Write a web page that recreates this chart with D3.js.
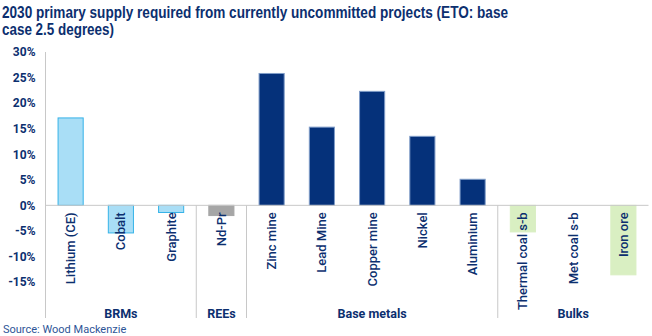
<!DOCTYPE html>
<html>
<head>
<meta charset="utf-8">
<script src="https://cdn.jsdelivr.net/npm/d3@7"></script>
<style>
  body { margin: 0; background: #fff; }
  svg { display: block; }
</style>
</head>
<body>
<div id="chart"></div>
<script>
// data
var categories = ["Lithium (CE)", "Cobalt", "Graphite", "Nd-Pr", "Zinc mine", "Lead Mine",
                  "Copper mine", "Nickel", "Aluminium", "Thermal coal s-b", "Met coal s-b", "Iron ore"];
var groupOf = ["BRMs", "BRMs", "BRMs", "REEs", "Base metals", "Base metals",
               "Base metals", "Base metals", "Base metals", "Bulks", "Bulks", "Bulks"];
var values = [17.1, -5.4, -1.4, -2.0, 25.8, 15.3, 22.3, 13.5, 5.1, -5.2, 0, -13.6];
var groups = ["BRMs", "REEs", "Base metals", "Bulks"];
var yTicks = [-15, -10, -5, 0, 5, 10, 15, 20, 25, 30];

var w = 652, h = 336;
var navy = "#0c2f6f";
var fills = { "BRMs": "#a9def6", "REEs": "#a6a6a6", "Base metals": "#05317a", "Bulks": "#d9efc2" };
var strokes = { "BRMs": "#36b3e8", "REEs": "#a6a6a6", "Base metals": "#7f9cc8", "Bulks": "#d9efc2" };

var svg = d3.select("#chart").append("svg")
    .attr("width", w)
    .attr("height", h)
    .attr("viewBox", "0 0 " + w + " " + h);

// title
var title = svg.append("text")
    .attr("font-family", "'Liberation Sans Narrow', 'Liberation Sans', Arial, sans-serif")
    .attr("font-weight", "bold")
    .attr("font-size", 17)
    .attr("fill", navy);
title.append("tspan").attr("x", 2).attr("y", 17.5)
    .attr("textLength", 506).attr("lengthAdjust", "spacingAndGlyphs")
    .text("2030 primary supply required from currently uncommitted projects (ETO: base");
title.append("tspan").attr("x", 2).attr("y", 34.5)
    .attr("textLength", 112).attr("lengthAdjust", "spacingAndGlyphs")
    .text("case 2.5 degrees)");

var x = d3.scaleBand()
    .domain(categories)
    .range([45.5, 648.5])
    .paddingInner(0.5)
    .paddingOuter(0.25);

var y = d3.scaleLinear()
    .domain([-15, 30])
    .range([282, 52]);

// y axis
var yAxis = svg.append("g")
    .attr("transform", "translate(45.5,0)")
    .call(d3.axisLeft(y).tickValues(yTicks).tickSize(0).tickPadding(10)
        .tickFormat(function (d) { return d + "%"; }));
yAxis.select(".domain").remove();
yAxis.selectAll("text")
    .attr("font-family", "Roboto, sans-serif")
    .attr("font-weight", "bold")
    .attr("font-size", 12)
    .attr("fill", navy);
svg.append("line")
    .attr("x1", 45.5).attr("x2", 45.5)
    .attr("y1", y(30)).attr("y2", 318)
    .attr("stroke", "#c8c8c8").attr("stroke-width", 1);

// bars
svg.append("g").selectAll("rect")
    .data(categories)
    .join("rect")
    .attr("x", function (d) { return x(d); })
    .attr("width", x.bandwidth())
    .attr("y", function (d, i) { return y(Math.max(0, values[i])); })
    .attr("height", function (d, i) { return Math.abs(y(values[i]) - y(0)); })
    .attr("fill", function (d, i) { return fills[groupOf[i]]; })
    .attr("stroke", function (d, i) { return strokes[groupOf[i]]; })
    .attr("stroke-width", 1);

// zero line
svg.append("line")
    .attr("x1", 45.5).attr("x2", 648.5)
    .attr("y1", y(0)).attr("y2", y(0))
    .attr("stroke", "#c8c8c8").attr("stroke-width", 1);

// category labels, rotated
svg.append("g").selectAll("text")
    .data(categories)
    .join("text")
    .attr("transform", function (d) {
        return "translate(" + (x(d) + x.bandwidth() / 2 + 4.5) + "," + (y(0) + 7) + ") rotate(-90)";
    })
    .attr("text-anchor", "end")
    .attr("font-family", "Roboto, sans-serif")
    .attr("font-weight", 500)
    .attr("font-size", 13)
    .attr("fill", navy)
    .text(function (d) { return d; });

// group separators and labels
var step = x.step();
var groupSpans = groups.map(function (g) {
    var idx = groupOf.map(function (v, i) { return v === g ? i : -1; }).filter(function (i) { return i >= 0; });
    return { name: g, start: 45.5 + idx[0] * step, end: 45.5 + (idx[idx.length - 1] + 1) * step };
});

svg.append("g").selectAll("line")
    .data(groupSpans.slice(1))
    .join("line")
    .attr("x1", function (d) { return d.start; })
    .attr("x2", function (d) { return d.start; })
    .attr("y1", y(0)).attr("y2", 318)
    .attr("stroke", "#c8c8c8").attr("stroke-width", 1);

svg.append("g").selectAll("text")
    .data(groupSpans)
    .join("text")
    .attr("x", function (d) { return (d.start + d.end) / 2; })
    .attr("y", 318)
    .attr("text-anchor", "middle")
    .attr("font-family", "Roboto, sans-serif")
    .attr("font-weight", "bold")
    .attr("font-size", 12.5)
    .attr("fill", navy)
    .text(function (d) { return d.name; });

// source
svg.append("text")
    .attr("x", 3)
    .attr("y", 333)
    .attr("font-family", "Roboto, sans-serif")
    .attr("font-size", 11)
    .attr("fill", "#2e5597")
    .text("Source: Wood Mackenzie");
</script>
</body>
</html>
